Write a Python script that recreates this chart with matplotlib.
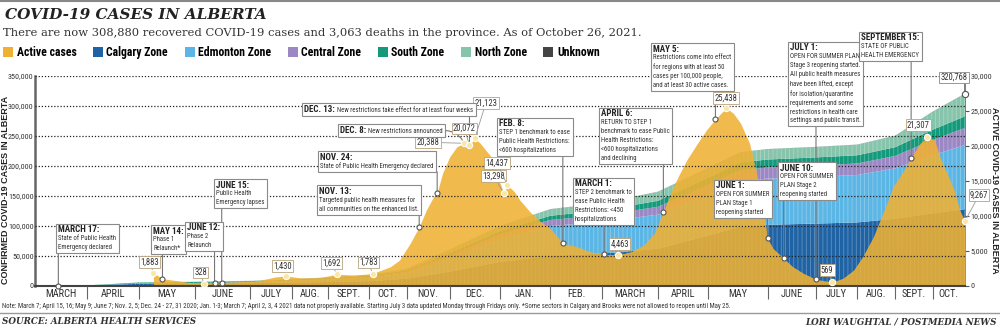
import matplotlib.pyplot as plt
import numpy as np
from matplotlib import font_manager
from matplotlib.patches import Rectangle
from matplotlib.lines import Line2D
from matplotlib.ticker import FuncFormatter
from matplotlib.transforms import Bbox, IdentityTransform

# 使えるフォントの中から細身のものを選ぶ
installed = {f.name for f in font_manager.fontManager.ttflist}
NARROW = next((f for f in ['Liberation Sans Narrow', 'Roboto Condensed', 'Open Sans Condensed']
               if f in installed), 'DejaVu Sans')
SERIF = 'DejaVu Serif'
plt.rcParams['hatch.linewidth'] = 0.5

W, H = 1000, 328

# 月ラベルと各月の報告回数（横軸は報告の通し番号）
month_labels = ['MARCH', 'APRIL', 'MAY', 'JUNE', 'JULY', 'AUG.', 'SEPT.', 'OCT.', 'NOV.', 'DEC.',
                'JAN.', 'FEB.', 'MARCH', 'APRIL', 'MAY', 'JUNE', 'JULY', 'AUG.', 'SEPT.', 'OCT.']
month_reports = [29, 29, 31, 31, 23, 20, 23, 21, 24, 28, 28, 29, 31, 28, 33, 27, 23, 21, 21, 18]

# 現在の感染者数（右軸）
active_day = [66, 71, 78, 86, 94, 100, 104, 114, 125, 134,
              140, 148, 159, 168, 178, 188, 198, 203, 209, 214,
              218, 222, 224, 227, 231, 235, 239, 242, 245, 248,
              251, 254, 257, 261, 263, 267, 270, 276, 281, 287,
              294, 302, 309, 317, 325, 332, 339, 345, 350, 354,
              358, 363, 369, 374, 379, 385, 389, 393, 398, 402,
              406, 408, 411, 417, 422, 428, 435, 444, 450, 456,
              461, 467, 473, 478, 484, 488, 493, 497, 501, 504,
              508, 512, 515, 518]
active_cases = [1883, 1040, 800, 500, 328, 480, 500, 600, 800, 1300,
                1430, 1150, 1200, 1692, 1550, 1783, 2760, 3700, 6100, 8471,
                10860, 12760, 13330, 16100, 18470, 19900, 20388, 20072, 21123, 20380,
                19430, 18470, 16140, 13298, 14437, 13470, 12290, 10500, 9300, 8240,
                6100, 5620, 4900, 4529, 4463, 4900, 5860, 7530, 10614, 13240,
                15500, 18000, 20390, 22290, 23857, 25438, 24670, 23240, 20390, 16000,
                10500, 6814, 5390, 3957, 2760, 1810, 957, 569, 1100, 2290,
                4190, 7050, 10860, 14190, 16570, 18329, 20390, 21307, 20860, 18470,
                16100, 13710, 10860, 9267]

# 地域別の累計感染者数（左軸）
stack_day = [0, 29, 58, 89, 120, 143, 163, 186, 207, 231, 259,
             287, 316, 347, 375, 393, 408, 435, 458, 479, 500, 518]
calgary = [0, 700, 3700, 4200, 4700, 5600, 6500, 8000, 12000, 24000, 40000,
           50000, 54000, 62000, 84000, 99000, 102000, 104000, 106000, 112000, 121000, 128000]
edmonton = [0, 250, 500, 700, 1300, 2700, 4000, 5800, 9600, 22000, 38000,
            50000, 53000, 57000, 68000, 76000, 77000, 78000, 79000, 84000, 97000, 107000]
central = [0, 50, 150, 200, 300, 500, 900, 1200, 2000, 5000, 8000,
           10000, 11000, 13000, 16500, 18000, 18500, 18800, 19200, 20700, 25300, 28500]
south = [0, 50, 1400, 1700, 1800, 1900, 2000, 2200, 2600, 3800, 5500,
         7000, 8000, 10000, 12000, 13000, 13300, 13500, 13700, 14500, 17200, 19300]
north = [0, 50, 250, 350, 500, 700, 900, 1200, 2400, 6000, 8500,
         11000, 12000, 15000, 16500, 17000, 17200, 17400, 17600, 19000, 30000, 37768]
unknown = [0, 0, 10, 20, 20, 30, 30, 40, 60, 100, 130,
           150, 160, 170, 180, 190, 190, 190, 190, 195, 198, 200]

zone_names = ['Calgary Zone', 'Edmonton Zone', 'Central Zone', 'South Zone', 'North Zone', 'Unknown']
zone_colors = ['#1f63a5', '#5cb6e5', '#9c87c5', '#149a7b', '#86c4ab', '#444444']
active_color = '#f0b133'

# 出来事（報告番号, 見出し, 本文）
event_day = [13, 71, 100, 104, 214, 224, 239, 242, 294, 317, 350, 379, 408, 417, 435, 488]
event_title = ['MARCH 17:', 'MAY 14:', 'JUNE 12:', 'JUNE 15:', 'NOV. 13:', 'NOV. 24:', 'DEC. 8:', 'DEC. 13:',
               'FEB. 8:', 'MARCH 1:', 'APRIL 6:', 'MAY 5:', 'JUNE 1:', 'JUNE 10:', 'JULY 1:', 'SEPTEMBER 15:']
event_text = ['State of Public Health\nEmergency declared',
              'Phase 1\nRelaunch*',
              'Phase 2\nRelaunch',
              'Public Health\nEmergency lapses',
              'Targeted public health measures for\nall communities on the enhanced list.',
              'State of Public Health Emergency declared',
              'New restrictions announced',
              'New restrictions take effect for at least four weeks',
              'STEP 1 benchmark to ease\nPublic Health Restrictions:\n<600 hospitalizations',
              'STEP 2 benchmark to\nease Public Health\nRestrictions: <450\nhospitalizations',
              'RETURN TO STEP 1\nbenchmark to ease Public\nHealth Restrictions:\n<600 hospitalizations\nand declining',
              'Restrictions come into effect\nfor regions with at least 50\ncases per 100,000 people,\nand at least 30 active cases.',
              'OPEN FOR SUMMER\nPLAN Stage 1\nreopening started',
              'OPEN FOR SUMMER\nPLAN Stage 2\nreopening started',
              'OPEN FOR SUMMER PLAN\nStage 3 reopening started.\nAll public health measures\nhave been lifted, except\nfor isolation/quarantine\nrequirements and some\nrestrictions in health care\nsettings and public transit.',
              'STATE OF PUBLIC\nHEALTH EMERGENCY']

# 値ラベルを付ける報告番号
value_day = [66, 94, 140, 168, 188, 239, 242, 245, 261, 263, 325, 385, 444, 497, 518]

# ---- レイアウト（上からのピクセル）----
box_pos = [(56, 224), (151, 225), (185, 222), (214, 179), (317, 185), (318, 151), (338, 124), (302, 103),
           (497, 118), (573, 178), (599, 108), (651, 43), (714, 180), (778, 162), (788, 42), (859, 32)]
box_inline = [False] * 6 + [True, True] + [False] * 8
box_curve = [False] * 6 + [True] + [False] * 9
value_offset = [(-4, 11), (-3, 11), (-4, 10), (-5, 11), (-4, 11), (-36, 1), (-5, 17), (11, 35),
                (-10, 17), (-10, 22), (1, 11), (0, 10), (-5, 12), (-9, 12), (14, 26)]

ratio = 350000 / 30000  # 左軸と右軸の比


def fy(py):
    return 1 - py / H


fig = plt.figure(figsize=(W / 100, H / 100), dpi=100)
ax = fig.add_axes([35 / W, fy(286), 930 / W, 210 / H])

edges = np.concatenate([[0], np.cumsum(month_reports)])
centers = (edges[:-1] + edges[1:]) / 2

ax.stackplot(stack_day, calgary, edmonton, central, south, north, unknown, colors=zone_colors,
             edgecolor=(1, 1, 1, 0.35), linewidth=0, hatch='||||', zorder=1)
ax.fill_between(active_day, 0, np.array(active_cases) * ratio, color=active_color, alpha=0.88,
                linewidth=0, zorder=2)

ax.set_xlim(0, edges[-1])
ax.set_ylim(0, 350000)
ax.set_yticks(np.arange(0, 350001, 50000))
ax.yaxis.set_major_formatter(FuncFormatter(lambda v, p: f'{int(v):,}'))
ax.tick_params(axis='y', length=0, pad=1, labelsize=5.8, labelcolor='#333', labelfontfamily=NARROW)
ax.set_axisbelow(False)
ax.yaxis.grid(True, color='#222', linewidth=0.9, linestyle=(0, (1, 1.5)))

ax.set_xticks(edges[1:-1])
ax.set_xticklabels([])
ax.set_xticks(centers, minor=True)
ax.set_xticklabels(month_labels, minor=True)
ax.tick_params(axis='x', which='major', length=9.5, width=0.8, color='#666')
ax.tick_params(axis='x', which='minor', length=0, pad=2.5, labelsize=7.5, labelcolor='#333',
               labelfontfamily=NARROW)

ax.spines['top'].set_visible(False)
ax.spines['right'].set_visible(False)
ax.spines['left'].set_color('#666')
ax.spines['left'].set_linewidth(1.8)
ax.spines['bottom'].set_color('#444')
ax.spines['bottom'].set_linewidth(1.5)

sec = ax.secondary_yaxis('right', functions=(lambda y: y / ratio, lambda y: y * ratio))
sec.set_yticks(np.arange(0, 30001, 5000))
sec.yaxis.set_major_formatter(FuncFormatter(lambda v, p: f'{int(v):,}'))
sec.tick_params(length=3, width=0.8, color='#555', pad=1, labelsize=5.8, labelcolor='#333',
                labelfontfamily=NARROW)
sec.spines['right'].set_color('#666')
sec.spines['right'].set_linewidth(1.2)

# 出来事の枠と引き出し線
renderer = fig.canvas.get_renderer()
for i, day in enumerate(event_day):
    left, top = box_pos[i]
    val = np.interp(day, active_day, active_cases, left=0) * ratio
    if box_inline[i]:
        t1 = fig.text((left + 2) / W, fy(top + 9), event_title[i], fontsize=6.5, fontweight='bold',
                      family=NARROW, color='#222', va='baseline', zorder=7)
        b1 = t1.get_window_extent(renderer)
        t2 = fig.text((b1.x1 + 2) / W, fy(top + 9), event_text[i], fontsize=4.9, family=NARROW,
                      color='#333', va='baseline', zorder=7)
    else:
        t1 = fig.text((left + 2) / W, fy(top + 1.5), event_title[i], fontsize=6.5, fontweight='bold',
                      family=NARROW, color='#222', va='top', zorder=7)
        b1 = t1.get_window_extent(renderer)
        t2 = fig.text((left + 2) / W, (b1.y0 - 0.5) / H, event_text[i], fontsize=4.9, family=NARROW,
                      color='#333', va='top', linespacing=1.38, zorder=7)
    bb = Bbox.union([b1, t2.get_window_extent(renderer)])
    x0, x1, y0, y1 = left, bb.x1 + 2.5, bb.y0 - 2, H - top
    fig.add_artist(Rectangle((x0, y0), x1 - x0, y1 - y0, transform=IdentityTransform(),
                             fc='white', ec='#8a8a8a', lw=0.8, zorder=6))
    if box_curve[i]:
        ax.annotate('', xy=(day, val), xytext=(x1, (y0 + y1) / 2), textcoords='figure pixels',
                    arrowprops=dict(arrowstyle='-', color='#777', lw=0.8, shrinkA=0, shrinkB=2,
                                    connectionstyle='arc3,rad=-0.3'), zorder=4)
    else:
        ax.annotate('', xy=(day, val), xytext=(day, y0), textcoords=('data', 'figure pixels'),
                    arrowprops=dict(arrowstyle='-', color='#777', lw=0.8, shrinkA=0, shrinkB=0), zorder=4)
    ax.plot(day, val, 'o', ms=3.6, mfc='white', mec='#555', mew=0.8, zorder=5, clip_on=False)

# 値ラベル
for day, (dx, dy) in zip(value_day, value_offset):
    v = active_cases[active_day.index(day)]
    ax.annotate(f'{v:,}', xy=(day, v * ratio), xytext=(dx, dy), textcoords='offset pixels',
                ha='center', va='center', fontsize=6.2, family=NARROW, color='#333',
                bbox=dict(boxstyle='square,pad=0.15', fc='white', ec='#b9a27a', lw=0.6),
                arrowprops=dict(arrowstyle='-', color='#999', lw=0.6, shrinkA=0, shrinkB=2), zorder=8)
    ax.plot(day, v * ratio, 'o', ms=4.5, mfc='#fbe7a4', mec='white', mew=0.8, zorder=8, clip_on=False)

total = calgary[-1] + edmonton[-1] + central[-1] + south[-1] + north[-1] + unknown[-1]
ax.annotate(f'{total:,}', xy=(stack_day[-1], total), xytext=(-11, 16), textcoords='offset pixels',
            ha='center', va='center', fontsize=6.2, family=NARROW, color='#333',
            bbox=dict(boxstyle='square,pad=0.15', fc='white', ec='#888', lw=0.6), zorder=8)
ax.plot(stack_day[-1], total, 'o', ms=4.5, mfc='white', mec='#555', mew=0.8, zorder=8, clip_on=False)

# 軸ラベル
fig.text(6 / W, fy(190), 'CONFIRMED COVID-19 CASES IN ALBERTA', rotation=90, ha='center', va='center',
         fontsize=6.5, fontweight='bold', family='Liberation Sans', color='#222')
fig.text(995 / W, fy(190), 'ACTIVE COVID-19 CASES IN ALBERTA', rotation=270, ha='center', va='center',
         fontsize=6.5, fontweight='bold', family='Liberation Sans', color='#222')

# タイトル・凡例
fig.add_artist(Line2D([0, 1], [fy(1), fy(1)], color='#888', lw=1.5))
fig.text(5 / W, fy(15), 'COVID-19 CASES IN ALBERTA', fontsize=11, fontweight='bold', style='italic',
         family=SERIF, color='#222', va='center')
fig.text(3 / W, fy(33), 'There are now 308,880 recovered COVID-19 cases and 3,063 deaths in the province. '
         'As of October 26, 2021.', fontsize=8.25, family=SERIF, color='#333', va='center')
handles = [Rectangle((0, 0), 1, 1, fc=c, ec='none') for c in [active_color] + zone_colors]
fig.legend(handles, ['Active cases'] + zone_names, ncol=7, loc='upper left', bbox_to_anchor=(3 / W, fy(46)),
           frameon=False, handlelength=0.85, handleheight=0.85, handletextpad=0.3, columnspacing=1.4,
           borderpad=0, borderaxespad=0, prop={'family': NARROW, 'weight': 'bold', 'size': 8.5})

# 注記・出典
fig.text(2 / W, fy(306), 'Note: March 7; April 15, 16; May 9; June 7; Nov. 2, 5; Dec. 24 - 27, 31 2020; Jan. 1-3; '
         'March 7; April 2, 3, 4 2021 data not properly available. Starting July 3 data updated Monday through '
         'Fridays only. *Some sectors in Calgary and Brooks were not allowed to reopen until May 25.',
         fontsize=4.85, family=NARROW, color='#333', va='center')
fig.add_artist(Line2D([0, 1], [fy(313), fy(313)], color='#999', lw=1))
fig.text(2 / W, fy(322), 'SOURCE: ALBERTA HEALTH SERVICES', fontsize=6.3, fontweight='bold', style='italic',
         family=SERIF, color='#333', va='center')
fig.text(997 / W, fy(322), 'LORI WAUGHTAL / POSTMEDIA NEWS', fontsize=6.3, fontweight='bold', style='italic',
         family=SERIF, color='#333', va='center', ha='right')

fig.savefig('out.png', dpi=100)
